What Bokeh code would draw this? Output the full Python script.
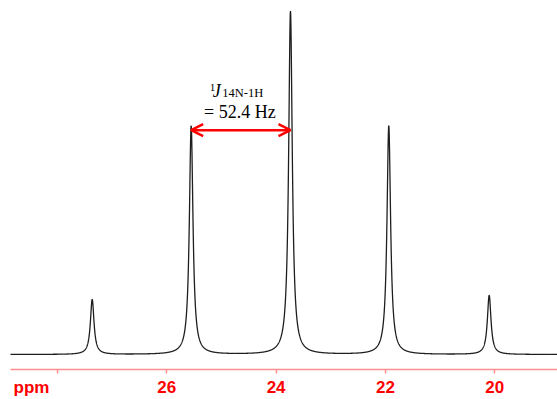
import numpy as np
from bokeh.plotting import figure
from bokeh.models import Range1d, Label, Arrow, OpenHead, FixedTicker, LinearAxis
from bokeh.embed import file_html
from bokeh.resources import INLINE

# ---- data ----
peak_ppm = [27.365, 25.554, 23.737, 21.938, 20.101]      # quintet line positions (ppm)
peak_height = [0.160, 0.666, 1.0, 0.666, 0.172]          # relative intensities
peak_hwhm = [0.04, 0.04, 0.04, 0.04, 0.04]               # half width at half max (ppm)
tick_ppm = [28, 26, 24, 22, 20]
label_ppm = [28.476, 26, 24, 22, 20]
label_text = ["ppm", "26", "24", "22", "20"]
coupling_symbol = ["1", "J", "14N-1H"]
coupling_value = "= 52.4 Hz"

# spectrum trace: sum of Lorentzian lines at the read positions
ppm = np.linspace(28.95, 18.80, 8121)
intensity = np.zeros_like(ppm)
for c, h, w in zip(peak_ppm, peak_height, peak_hwhm):
    intensity += h / (1.0 + ((ppm - c) / w) ** 2)

p = figure(width=557, height=399,
           x_range=Range1d(28.860, 18.851), y_range=Range1d(-0.0436, 1.032),
           output_backend="svg", toolbar_location=None,
           y_axis_location=None, min_border=0, min_border_left=10)
p.grid.visible = False
p.outline_line_color = None
p.background_fill_color = "white"

p.line(ppm, intensity, line_color="#1e1e1e", line_width=1.3)

pink = "#ff8f8f"
# axis line + tick marks
ax = p.xaxis[0]
ax.ticker = FixedTicker(ticks=tick_ppm)
ax.major_label_overrides = {t: "" for t in tick_ppm}
ax.major_label_text_font_size = "1px"
ax.major_label_standoff = 0
ax.minor_tick_line_color = None
ax.major_tick_in = 0
ax.major_tick_out = 4
ax.axis_line_color = pink
ax.axis_line_width = 1.5
ax.major_tick_line_color = pink
ax.major_tick_line_width = 1.5

# tick labels (incl. the "ppm" unit) on a second, line-less axis below
lab = LinearAxis(ticker=FixedTicker(ticks=label_ppm),
                 major_label_overrides={t: s for t, s in zip(label_ppm, label_text)},
                 axis_line_color=None, major_tick_line_color=None,
                 minor_tick_line_color=None, major_tick_in=0, major_tick_out=0,
                 major_label_standoff=4,
                 major_label_text_color="#ff0000",
                 major_label_text_font="Liberation Sans",
                 major_label_text_font_style="bold",
                 major_label_text_font_size="17px")
p.add_layout(lab, "below")
p.min_border_bottom = 29

# coupling arrow between the 2nd and 3rd lines
arrow_y = 0.654
p.add_layout(Arrow(start=OpenHead(size=12, line_color="red", line_width=2.5),
                   end=OpenHead(size=12, line_color="red", line_width=2.5),
                   x_start=peak_ppm[1], y_start=arrow_y,
                   x_end=peak_ppm[2], y_end=arrow_y,
                   line_color="red", line_width=2.5))

mid = (peak_ppm[1] + peak_ppm[2]) / 2
serif = "Liberation Serif"
p.add_layout(Label(x=mid, y=arrow_y, x_offset=-31, y_offset=43, text=coupling_symbol[0],
                   text_align="left", text_baseline="alphabetic",
                   text_font=serif, text_font_size="11px", text_color="black"))
p.add_layout(Label(x=mid, y=arrow_y, x_offset=-28, y_offset=39, text=coupling_symbol[1],
                   text_align="left", text_baseline="alphabetic",
                   text_font=serif, text_font_style="italic", text_font_size="18px",
                   text_color="black"))
p.add_layout(Label(x=mid, y=arrow_y, x_offset=-18.5, y_offset=37, text=coupling_symbol[2],
                   text_align="left", text_baseline="alphabetic",
                   text_font=serif, text_font_size="12.5px", text_color="black"))
p.add_layout(Label(x=mid, y=arrow_y, x_offset=-1, y_offset=18, text=coupling_value,
                   text_align="center", text_baseline="alphabetic",
                   text_font=serif, text_font_size="18px", text_color="black"))

open("out.html", "w").write(file_html(p, INLINE))
